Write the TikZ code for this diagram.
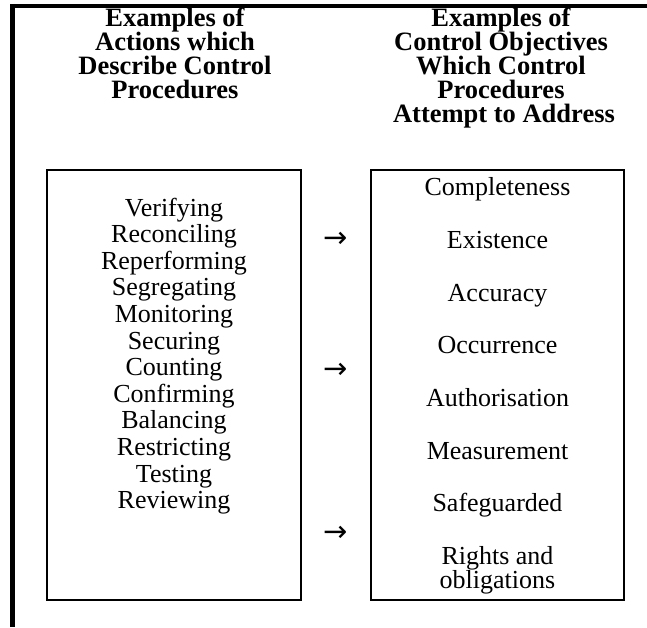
\documentclass[tikz,border=0pt]{standalone}
\usepackage{fontspec}
\setmainfont{Liberation Serif}
\newfontfamily\arrowfont{DejaVu Sans}
\begin{document}
\begin{tikzpicture}[x=1pt,y=-1pt,
  head/.style={anchor=base, inner sep=0pt, font=\fontsize{26.5}{24}\selectfont\bfseries},
  item/.style={anchor=base, inner sep=0pt, font=\fontsize{26}{26}\selectfont},
  panel/.style={draw, line width=2pt, minimum width=#1, minimum height=430pt, inner sep=0pt},
  arrowglyph/.style={anchor=center, inner sep=0pt, font=\fontsize{29}{29}\selectfont\arrowfont},
  frameline/.style={line width=#1}]
\useasboundingbox (0,0) rectangle (647,627);
\fill[white] (0,0) rectangle (647,627);
% frame
\coordinate (ftl) at (12.5,6);
\coordinate (ftr) at (647,6);
\coordinate (fbl) at (12.5,627);
\draw[frameline=4.5pt] (10,6) -- (ftr);
\draw[frameline=5pt] (12.5,3.75) -- (fbl);
% headings
\node[head] (lh1) at (175,26) {Examples of};
\node[head] (lh2) at (175,50) {Actions which};
\node[head] (lh3) at (175,74) {Describe Control};
\node[head] (lh4) at (175,98) {Procedures};
\node[head] (rh1) at (501,26) {Examples of};
\node[head] (rh2) at (501,50) {Control Objectives};
\node[head] (rh3) at (501,74) {Which Control};
\node[head] (rh4) at (501,98) {Procedures};
\node[head] (rh5) at (504,122) {Attempt to Address};
% boxes
\node[panel=254pt] (leftbox) at (174,385) {};
\node[panel=253pt] (rightbox) at (497.5,385) {};
% left items
\foreach \t [count=\i from 0] in {Verifying,Reconciling,Reperforming,Segregating,Monitoring,Securing,Counting,Confirming,Balancing,Restricting,Testing,Reviewing}
  \node[item] (act\i) at (174,216+26.6*\i) {\t};
% right items
\node[item] (o1) at (497.5,195) {Completeness};
\node[item] (o2) at (497.5,248) {Existence};
\node[item] (o3) at (497.5,301) {Accuracy};
\node[item] (o4) at (497.5,353) {Occurrence};
\node[item] (o5) at (497.5,406) {Authorisation};
\node[item] (o6) at (497.5,459) {Measurement};
\node[item] (o7) at (497.5,511) {Safeguarded};
\node[item] (o8) at (497.5,564) {Rights and};
\node[item] (o9) at (497.5,588) {obligations};
% arrows
\node[arrowglyph] (ar1) at (335.5,240) {→};
\node[arrowglyph] (ar2) at (335.5,371) {→};
\node[arrowglyph] (ar3) at (335.5,534) {→};
\end{tikzpicture}
\end{document}
